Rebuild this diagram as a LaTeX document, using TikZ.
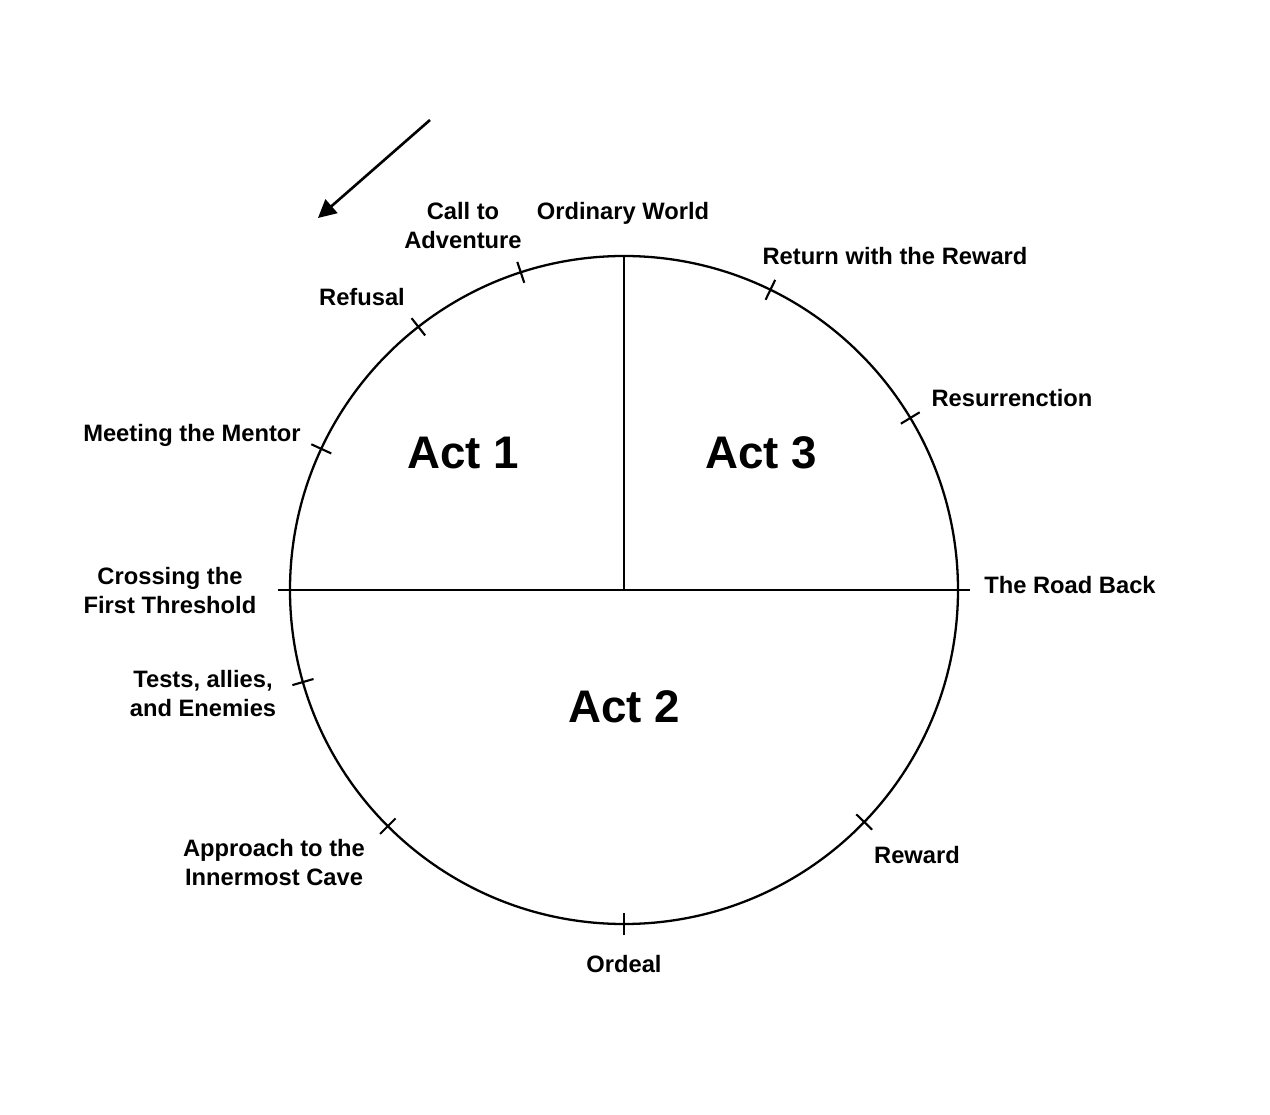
\documentclass[tikz,border=0pt]{standalone}
\usepackage{fontspec}
\setmainfont{Liberation Sans}
\usetikzlibrary{arrows.meta}
\tikzset{
  cerchio/.style = {circle, draw, line width=1.3pt, minimum size=13.36cm, inner sep=0, outer sep=0},
  link/.style    = {line width=1.3pt},
  tacca/.style   = {line width=1.2pt},
  freccia/.style = {line width=1.5pt, -{Triangle[length=3.6mm, width=3.6mm]}},
  et/.style      = {font=\bfseries\fontsize{13.5}{16.5}\selectfont, align=center, inner sep=0},
  atto/.style    = {font=\bfseries\fontsize{26}{30}\selectfont, inner sep=0}
}

\begin{document}
\begin{tikzpicture}
  \useasboundingbox (-12.48,-10.48) rectangle (12.92,11.8);
  \node[cerchio] (C) at (0,0) {};
  \coordinate (O) at (0,0);
  \draw[link] (C.north) -- (O);
  \draw[link] ([xshift=-0.24cm]C.west) -- ([xshift=0.24cm]C.east);
  \foreach \a in {108.4,128.2,155.3,196.2,225,270,316,31.3,64.2}
    \draw[tacca] ([shift={(\a:0.22)}]C.\a) -- ([shift={(\a:-0.22)}]C.\a);

  \node[atto] (act1) at (-3.22, 2.74) {Act 1};
  \node[atto] (act3) at ( 2.74, 2.74) {Act 3};
  \node[atto] (act2) at ( 0.00,-2.34) {Act 2};

  \node[et] (ow)  at (-0.02, 7.54) {Ordinary World};
  \node[et] (cta) at (-3.22, 7.28) {Call to\\Adventure};
  \node[et] (ref) at (-5.24, 5.86) {Refusal};
  \node[et] (mtm) at (-8.64, 3.10) {Meeting the Mentor};
  \node[et] (cft) at (-9.08,-0.02) {Crossing the\\First Threshold};
  \node[et] (tae) at (-8.42,-2.08) {Tests, allies,\\and Enemies};
  \node[et] (aic) at (-7.00,-5.46) {Approach to the\\Innermost Cave};
  \node[et] (ord) at ( 0.00,-7.48) {Ordeal};
  \node[et] (rew) at ( 5.86,-5.30) {Reward};
  \node[et] (trb) at ( 8.92, 0.10) {The Road Back};
  \node[et] (res) at ( 7.76, 3.84) {Resurrenction};
  \node[et] (rwr) at ( 5.42, 6.68) {Return with the Reward};

  \coordinate (a0) at (-3.88, 9.40);
  \coordinate (a1) at (-6.12, 7.44);
  \draw[freccia] (a0) -- (a1);
\end{tikzpicture}
\end{document}
